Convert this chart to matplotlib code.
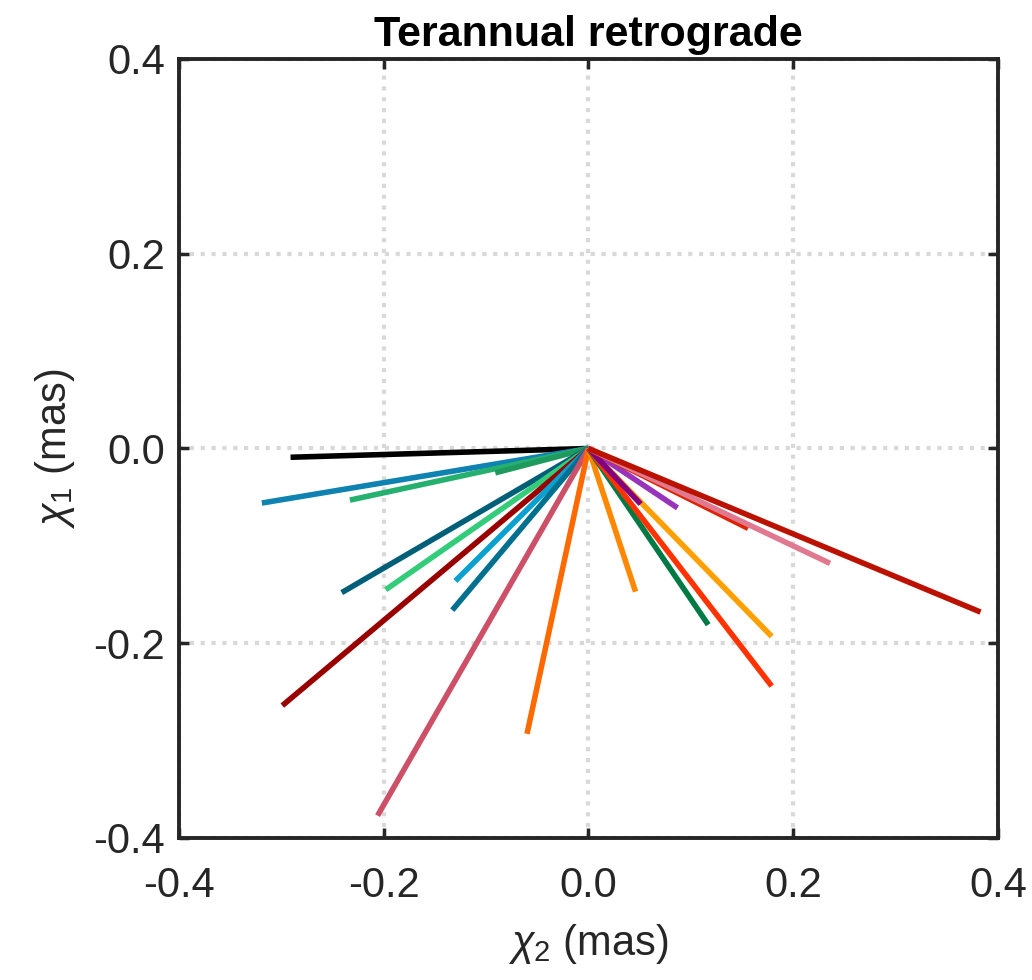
import matplotlib
matplotlib.use("Agg")
import matplotlib.pyplot as plt

# Endpoints of each line (start at origin), chi2 (x) and chi1 (y) in mas
chi2_end = [-0.291, -0.319, -0.233, -0.091, -0.241, -0.198, -0.299, -0.130, -0.133, -0.206,
            -0.060, 0.046, 0.117, 0.179, 0.179, 0.087, 0.051, 0.156, 0.236, 0.383]
chi1_end = [-0.009, -0.056, -0.053, -0.025, -0.148, -0.145, -0.264, -0.136, -0.166, -0.377,
            -0.293, -0.147, -0.181, -0.244, -0.193, -0.061, -0.057, -0.082, -0.118, -0.168]
colors = ["#000000", "#0e82b0", "#25b070", "#1e9a5e", "#005f78", "#33cc7a", "#990000",
          "#0aa0d0", "#00708f", "#cc5068", "#ff6a00", "#ff8800", "#007a45", "#ff3300",
          "#ffa000", "#9933bb", "#800080", "#dd2200", "#e07890", "#bb1100"]
ticks = [-0.4, -0.2, 0.0, 0.2, 0.4]
tick_labels = ["-0.4", "-0.2", "0.0", "0.2", "0.4"]

fam = ["Liberation Sans", "DejaVu Sans"]
plt.rcParams['font.family'] = fam
plt.rcParams['mathtext.fontset'] = 'custom'
plt.rcParams['mathtext.it'] = 'Liberation Sans:italic'
plt.rcParams['mathtext.rm'] = 'Liberation Sans'

fig = plt.figure(figsize=(10.32, 9.8), dpi=100)
ax = fig.add_axes([0.1734, 0.1449, 0.7936, 0.7949])

for x, y, c in zip(chi2_end, chi1_end, colors):
    ax.plot([0, x], [0, y], color=c, lw=4.0, solid_capstyle='butt')

ax.set_xlim(-0.4, 0.4)
ax.set_ylim(-0.4, 0.4)
ax.set_xticks(ticks)
ax.set_yticks(ticks)
ax.set_xticklabels(tick_labels)
ax.set_yticklabels(tick_labels)
ax.grid(True, color="#d9d9d9", linestyle=(0, (1.0, 1.6)), linewidth=3.0)
ax.set_axisbelow(True)
ax.tick_params(direction='in', length=7, width=2.5, top=True, right=True,
               labelsize=30, colors="#262626")
ax.tick_params(axis='x', pad=20)
ax.tick_params(axis='y', pad=10)
for s in ax.spines.values():
    s.set_linewidth(2.8)
    s.set_color("#262626")

ax.set_xlabel(r"$\chi_2$ (mas)", fontsize=30, color="#262626", labelpad=12)
ax.set_ylabel(r"$\chi_1$ (mas)", fontsize=30, color="#262626", labelpad=12)
ax.set_title("Terannual retrograde", fontsize=31, fontweight='bold', pad=9)

fig.savefig("out.png", dpi=100)
